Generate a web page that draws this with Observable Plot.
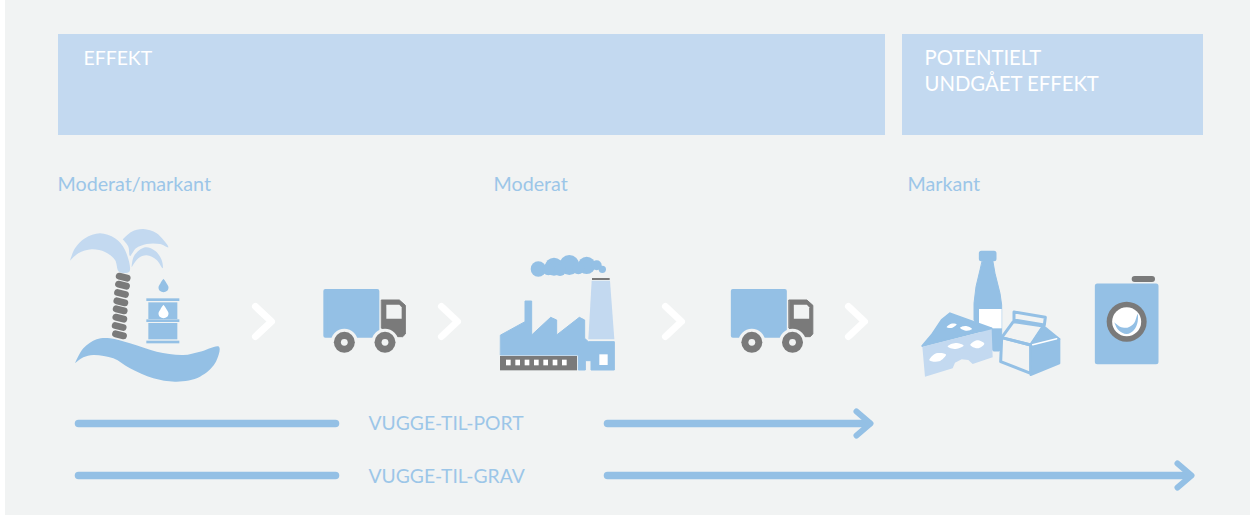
<!DOCTYPE html>
<html><head><meta charset="utf-8">
<script src="https://cdn.jsdelivr.net/npm/d3@7"></script>
<script src="https://cdn.jsdelivr.net/npm/@observablehq/plot@0.6"></script>
<style>html,body{margin:0;padding:0;background:#fff}svg{display:block}</style>
</head><body><div id="chart"></div>
<script>
// ---------- text and bands ----------
const headerBands = [[58,885,34,135],[902,1203,34,135]];
const headerLeft = [["EFFEKT",83,58]];
const headerRight = [["POTENTIELT",924,58],["UNDGÅET EFFEKT",924,84]];
const levelLabels = [["Moderat/markant",57,184],["Moderat",493,184],["Markant",907,184]];
const scopeLabels = [["VUGGE-TIL-PORT",368,423],["VUGGE-TIL-GRAV",368,476]];
// ---------- life-cycle arrows ----------
const scopeBars = [[78,335,423],[607,868,423],[78,335,475],[607,1188,475]];
const arrowTips = [[870,423],[1191,475]];
const stageChevrons = [271,457,681,864];
// ---------- island icon (crop units) ----------
const frondLeft = [[60,122],[75,85],[105,55],[150,40],[195,55],[225,90],[238,155],[207,155],[195,120],[165,96],[125,88],[85,100],[60,122]];
const frondTop = [[218,58],[245,35],[280,27],[320,40],[355,82],[330,72],[290,72],[258,85],[240,108],[235,80],[218,58]];
const frondLow = [[245,142],[252,108],[285,82],[315,92],[335,120],[338,145],[320,120],[290,106],[265,115],[245,142]];
const sea = [[75,430],[100,385],[140,358],[180,355],[240,370],[320,395],[400,405],[450,395],[507,380],[495,430],[450,470],[380,485],[310,475],[240,445],[190,415],[130,405],[100,412],[75,430]];
const trunkRings = [[218,170],[216,194],[213,219],[211,244],[209,268],[208,293],[206,318],[207,343]];
const barrelHoops = [[289,388,235,243],[289,388,298,306],[289,388,362,370]];
const barrelStaves = [[295,382,247,297],[295,382,309,358]];
const dropShape = [[0,-25],[9,-12],[15,0],[11,11],[0,15],[-11,11],[-15,0],[-9,-12],[0,-25]];
const dropBlue = [339,200];
const dropWhite = [339,278];
// ---------- truck (crop units) ----------
const truckBody = [[826,213],[982,213],[982,347],[826,347]];
const truckCab = [[995,240],[1048,240],[1066,256],[1066,342],[1058,350],[1030,350],[995,325]];
const truckWindow = [[1009,254],[1048,254],[1055,262],[1055,296],[1009,296]];
const truckWheels = [[883,367],[1005,367]];
const truckShift = [[0,0],[407.5,0]];
// ---------- factory (crop units) ----------
const factoryHall = [[62,285],[135,245],[135,183],[155,183],[155,285],[212,232],[230,240],[230,285],[298,232],[314,240],[314,295],[325,305],[403,305],[403,390],[333,390],[333,362],[316,362],[316,390],[295,390],[295,345],[62,345]];
const factoryStrip = [[60,291,348,391]];
const factoryWindows = [78,106,134,162,190,218,246];
const factoryDoor = [[358,383,343,375]];
const chimney = [[335,122],[390,122],[403,298],[325,298]];
const chimneyCap = [[336,389,114,120]];
const smoke = [[175,87,23],[205,88,18],[222,80,27],[240,90,18],[268,75,30],[295,85,18],[320,76,26],[350,76,15],[367,88,11]];
// ---------- products (crop units) ----------
const bottleCap = [[244,40],[282,40],[282,56],[244,56]];
const bottle = [[248,60],[278,60],[285,100],[300,160],[305,195],[305,325],[298,333],[280,333],[222,240],[222,190],[228,140],[240,90]];
const bottleLabel = [[237,305,207,265]];
const cheeseTop = [[67,318],[95,285],[125,240],[150,220],[275,265]];
const cheeseFront = [[67,320],[275,268],[278,352],[218,372],[205,360],[185,358],[165,368],[158,385],[75,410]];
// centre x, centre y, half length, half height, slope of the long axis
const cheeseHoles = [[155,257,15,6,-0.3],[198,265,18,7,0.1],[167,318,24,9,-0.05],[232,313,21,12,-0.1],[113,352,25,12,-0.35]];
const cartonLeft = [[305,293],[392,315],[392,400],[302,365]];
const cartonGable = [[305,293],[340,245],[430,258],[392,315]];
const cartonTab = [[342,216],[436,232],[433,255],[342,240]];
const cartonRight = [[392,317],[478,297],[478,370],[392,405]];
const cartonPeak = [[430,258],[478,297],[394,313]];
const cartonCrease = [[398,314],[470,296]];
const washer = [[592,138],[768,138],[768,365],[592,365]];
const washerHandle = [[704,117],[756,117]];
const washerDoor = [680,245];
const washerSwirl = [[643,247],[655,270],[680,282],[702,270],[713,245],[713,222],[702,250],[682,263],[660,260],[643,247]];

// ---------- palette ----------
const bg = "#f1f3f3", light = "#c3d9f0", mid = "#94c0e5", grey = "#7a7a7a", ink = "#9cc6e8";
const font = "Lato";

// crop origins
const O1 = [50,220], O2 = [480,240], O3 = [900,240];
const X = o => d => o[0] + d[0]/3 - 0.5, Y = o => d => o[1] + d[1]/3 - 0.5;

const poly = (pts, o, fill, opts = {}) => Plot.line(pts, {x:X(o), y:Y(o), fill, stroke: opts.sw ? fill : "none", strokeWidth: opts.sw ?? 0, strokeLinejoin:"round", curve: opts.curve ?? "linear-closed"});
const box = (rows, o, fill) => Plot.rect(rows, {x1:d=>o[0]+d[0]/3, x2:d=>o[0]+d[1]/3, y1:d=>o[1]+d[2]/3, y2:d=>o[1]+d[3]/3, fill});
const disc = (rows, o, fill, r) => Plot.dot(rows, {x:X(o), y:Y(o), r, fill, stroke:"none"});
const label = (rows, fill, size) => Plot.text(rows, {x:d=>d[1], y:d=>d[2], text:d=>d[0], fill, fontSize:size, fontFamily:font, textAnchor:"start", lineAnchor:"middle"});
const pill = (pts, o, stroke, strokeWidth) => Plot.line(pts, {x:X(o), y:Y(o), stroke, strokeWidth, strokeLinecap:"round", strokeLinejoin:"round", fill:"none"});
const hole = ([cx,cy,a,b,s]) => poly([[cx-a,cy-a*s],[cx+b*s,cy-b],[cx+a,cy+a*s],[cx-b*s,cy+b]], O3, "#fff", {curve:"catmull-rom-closed"});

const truck = s => {
  const o = [O1[0]+s[0], O1[1]+s[1]];
  return [
    poly(truckBody, o, mid, {sw:4}),
    poly(truckCab, o, grey, {sw:1}),
    poly(truckWindow, o, bg),
    disc(truckWheels, o, bg, 13.5),
    disc(truckWheels, o, grey, 10.5),
    disc(truckWheels, o, bg, 3.4)
  ];
};

const chart = Plot.plot({
  width:1250, height:515, margin:0,
  x:{domain:[0,1250], range:[0,1250], axis:null},
  y:{domain:[0,515], range:[0,515], axis:null},
  r:{type:"identity"},
  style:{background:"#fff"},
  marks:[
    Plot.rect([[5,1250,0,515]], {x1:d=>d[0],x2:d=>d[1],y1:d=>d[2],y2:d=>d[3],fill:bg}),
    Plot.rect(headerBands, {x1:d=>d[0],x2:d=>d[1],y1:d=>d[2],y2:d=>d[3],fill:light}),
    label(headerLeft, "#fff", 19.4),
    label(headerRight, "#fff", 20.3),
    label(levelLabels, ink, 19.7),
    label(scopeLabels, ink, 19.3),
    // island
    poly(frondLeft, O1, light, {curve:"catmull-rom"}),
    poly(frondTop, O1, light, {curve:"catmull-rom"}),
    poly(frondLow, O1, light, {curve:"catmull-rom"}),
    poly(sea, O1, mid, {curve:"catmull-rom"}),
    Plot.link(trunkRings, {x1:d=>O1[0]+(d[0]-12)/3, y1:d=>O1[1]+(d[1]-3)/3, x2:d=>O1[0]+(d[0]+12)/3, y2:d=>O1[1]+(d[1]+3)/3, stroke:grey, strokeWidth:6.8, strokeLinecap:"round"}),
    box(barrelHoops, O1, mid),
    box(barrelStaves, O1, mid),
    Plot.line(dropShape, {x:d=>O1[0]+(dropBlue[0]+d[0])/3, y:d=>O1[1]+(dropBlue[1]+d[1])/3, fill:mid, stroke:"none", curve:"catmull-rom"}),
    Plot.line(dropShape, {x:d=>O1[0]+(dropWhite[0]+d[0])/3, y:d=>O1[1]+(dropWhite[1]+d[1])/3, fill:"#fff", stroke:"none", curve:"catmull-rom"}),
    // trucks
    ...truckShift.flatMap(truck),
    // factory
    poly(factoryHall, O2, mid, {sw:1}),
    poly(chimney, O2, light),
    box(chimneyCap, O2, grey),
    box(factoryStrip, O2, grey),
    Plot.rect(factoryWindows, {x1:d=>O2[0]+d/3, x2:d=>O2[0]+(d+14)/3, y1:O2[1]+359/3, y2:O2[1]+376/3, fill:"#fff"}),
    box(factoryDoor, O2, "#fff"),
    Plot.dot(smoke, {x:X(O2), y:Y(O2), r:d=>d[2]/3, fill:mid, stroke:"none"}),
    // bottle
    poly(bottleCap, O3, mid, {sw:5}),
    poly(bottle, O3, mid, {sw:1}),
    box(bottleLabel, O3, "#fff"),
    // cheese
    poly(cheeseTop, O3, mid, {sw:2}),
    poly(cheeseFront, O3, light),
    ...cheeseHoles.map(hole),
    // carton
    poly(cartonLeft, O3, bg),
    poly(cartonGable, O3, bg),
    Plot.line(cartonTab.concat([cartonTab[0]]), {x:X(O3), y:Y(O3), stroke:mid, strokeWidth:3, fill:bg, strokeLinejoin:"round"}),
    Plot.line(cartonLeft.concat([cartonLeft[0]]), {x:X(O3), y:Y(O3), stroke:mid, strokeWidth:3, fill:"none", strokeLinejoin:"round"}),
    Plot.line(cartonGable.concat([cartonGable[0]]), {x:X(O3), y:Y(O3), stroke:mid, strokeWidth:3, fill:"none", strokeLinejoin:"round"}),
    poly(cartonRight, O3, mid, {sw:2}),
    poly(cartonPeak, O3, mid, {sw:2}),
    pill(cartonCrease, O3, "#fff", 1.5),
    // washer
    pill(washerHandle, O3, grey, 6),
    poly(washer, O3, mid, {sw:5}),
    disc([washerDoor], O3, grey, 20),
    disc([washerDoor], O3, "#fff", 14.5),
    poly(washerSwirl, O3, mid, {curve:"catmull-rom"}),
    // chevrons
    ...stageChevrons.map(t => Plot.line([[t-16,306],[t,321],[t-16,336]], {x:d=>d[0], y:d=>d[1], stroke:"#fff", strokeWidth:7, strokeLinecap:"round", strokeLinejoin:"round", fill:"none"})),
    // life-cycle bars
    Plot.link(scopeBars, {x1:d=>d[0], x2:d=>d[1], y1:d=>d[2], y2:d=>d[2], stroke:mid, strokeWidth:7.5, strokeLinecap:"round"}),
    ...arrowTips.map(a => Plot.line([[a[0]-14,a[1]-12],[a[0],a[1]],[a[0]-14,a[1]+12]], {x:d=>d[0], y:d=>d[1], stroke:mid, strokeWidth:6, strokeLinecap:"round", strokeLinejoin:"round", fill:"none"}))
  ]
});
document.getElementById("chart").append(chart);
</script></body></html>
